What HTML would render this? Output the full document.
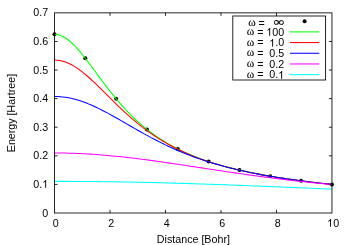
<!DOCTYPE html>
<html><head><meta charset="utf-8"><title>chart</title>
<style>
html,body{margin:0;padding:0;background:#fff;}
body{width:350px;height:245px;position:relative;overflow:hidden;font-family:"Liberation Sans",sans-serif;color:#000;}
.g1{display:inline-block;width:0.5562em;height:0.7188em;vertical-align:baseline;fill:#000;overflow:visible}
.t{position:absolute;white-space:nowrap;line-height:1;font-family:"Liberation Sans",sans-serif;}
</style></head><body>
<svg width="350" height="245" viewBox="0 0 350 245" style="position:absolute;left:0;top:0">
<rect width="350" height="245" fill="#fff"/>
<circle cx="54.50" cy="34.31" r="2.0" fill="#000"/>
<circle cx="85.33" cy="58.37" r="2.0" fill="#000"/>
<circle cx="116.16" cy="98.83" r="2.0" fill="#000"/>
<circle cx="146.98" cy="129.42" r="2.0" fill="#000"/>
<circle cx="177.81" cy="149.00" r="2.0" fill="#000"/>
<circle cx="208.64" cy="161.58" r="2.0" fill="#000"/>
<circle cx="239.47" cy="170.12" r="2.0" fill="#000"/>
<circle cx="270.29" cy="176.24" r="2.0" fill="#000"/>
<circle cx="301.12" cy="180.84" r="2.0" fill="#000"/>
<circle cx="331.95" cy="184.41" r="2.0" fill="#000"/>
<polyline points="54.50,34.32 57.27,34.55 60.05,35.26 62.82,36.42 65.60,38.01 68.37,40.00 71.15,42.34 73.92,45.00 76.70,47.94 79.47,51.11 82.25,54.46 85.02,57.97 87.79,61.59 90.57,65.30 93.34,69.04 96.12,72.81 98.89,76.58 101.67,80.32 104.44,84.01 107.22,87.65 109.99,91.21 112.76,94.70 115.54,98.09 118.31,101.39 121.09,104.58 123.86,107.68 126.64,110.67 129.41,113.55 132.19,116.33 134.96,119.00 137.73,121.57 140.51,124.04 143.28,126.41 146.06,128.68 148.83,130.87 151.61,132.96 154.38,134.97 157.16,136.90 159.93,138.75 162.71,140.52 165.48,142.22 168.25,143.86 171.03,145.42 173.80,146.93 176.58,148.37 179.35,149.76 182.13,151.10 184.90,152.38 187.68,153.61 190.45,154.80 193.22,155.94 196.00,157.04 198.77,158.11 201.55,159.13 204.32,160.12 207.10,161.07 209.87,161.99 212.65,162.88 215.42,163.74 218.20,164.57 220.97,165.37 223.74,166.15 226.52,166.90 229.29,167.63 232.07,168.34 234.84,169.02 237.62,169.69 240.39,170.33 243.17,170.96 245.94,171.57 248.71,172.16 251.49,172.74 254.26,173.29 257.04,173.84 259.81,174.37 262.59,174.88 265.36,175.38 268.14,175.87 270.91,176.35 273.69,176.81 276.46,177.26 279.23,177.70 282.01,178.13 284.78,178.55 287.56,178.96 290.33,179.36 293.11,179.76 295.88,180.14 298.66,180.51 301.43,180.88 304.20,181.23 306.98,181.58 309.75,181.92 312.53,182.26 315.30,182.59 318.08,182.91 320.85,183.22 323.63,183.53 326.40,183.83 329.18,184.12 331.95,184.41" fill="none" stroke="#00ff00" stroke-width="1.05" stroke-linejoin="round"/>
<polyline points="54.50,60.05 57.27,60.18 60.05,60.56 62.82,61.20 65.60,62.08 68.37,63.21 71.15,64.55 73.92,66.11 76.70,67.87 79.47,69.80 82.25,71.90 85.02,74.15 87.79,76.52 90.57,79.00 93.34,81.57 96.12,84.21 98.89,86.90 101.67,89.64 104.44,92.39 107.22,95.16 109.99,97.93 112.76,100.67 115.54,103.40 118.31,106.09 121.09,108.74 123.86,111.34 126.64,113.88 129.41,116.37 132.19,118.80 134.96,121.16 137.73,123.45 140.51,125.68 143.28,127.83 146.06,129.92 148.83,131.94 151.61,133.89 154.38,135.78 157.16,137.59 159.93,139.35 162.71,141.04 165.48,142.67 168.25,144.24 171.03,145.75 173.80,147.21 176.58,148.61 179.35,149.97 182.13,151.27 184.90,152.53 187.68,153.74 190.45,154.91 193.22,156.04 196.00,157.12 198.77,158.17 201.55,159.19 204.32,160.16 207.10,161.11 209.87,162.02 212.65,162.91 215.42,163.76 218.20,164.59 220.97,165.39 223.74,166.16 226.52,166.91 229.29,167.64 232.07,168.35 234.84,169.03 237.62,169.70 240.39,170.34 243.17,170.97 245.94,171.57 248.71,172.16 251.49,172.74 254.26,173.30 257.04,173.84 259.81,174.37 262.59,174.88 265.36,175.38 268.14,175.87 270.91,176.35 273.69,176.81 276.46,177.26 279.23,177.70 282.01,178.13 284.78,178.55 287.56,178.96 290.33,179.37 293.11,179.76 295.88,180.14 298.66,180.51 301.43,180.88 304.20,181.23 306.98,181.58 309.75,181.92 312.53,182.26 315.30,182.59 318.08,182.91 320.85,183.22 323.63,183.53 326.40,183.83 329.18,184.12 331.95,184.41" fill="none" stroke="#ff0000" stroke-width="1.05" stroke-linejoin="round"/>
<polyline points="54.50,96.45 57.27,96.51 60.05,96.67 62.82,96.93 65.60,97.29 68.37,97.76 71.15,98.33 73.92,98.99 76.70,99.74 79.47,100.59 82.25,101.52 85.02,102.53 87.79,103.61 90.57,104.77 93.34,105.99 96.12,107.27 98.89,108.61 101.67,110.00 104.44,111.43 107.22,112.91 109.99,114.41 112.76,115.95 115.54,117.50 118.31,119.08 121.09,120.66 123.86,122.26 126.64,123.86 129.41,125.46 132.19,127.06 134.96,128.65 137.73,130.23 140.51,131.79 143.28,133.34 146.06,134.87 148.83,136.37 151.61,137.86 154.38,139.32 157.16,140.75 159.93,142.15 162.71,143.53 165.48,144.88 168.25,146.19 171.03,147.48 173.80,148.73 176.58,149.95 179.35,151.15 182.13,152.31 184.90,153.44 187.68,154.53 190.45,155.60 193.22,156.64 196.00,157.65 198.77,158.63 201.55,159.59 204.32,160.51 207.10,161.41 209.87,162.29 212.65,163.13 215.42,163.96 218.20,164.76 220.97,165.54 223.74,166.29 226.52,167.02 229.29,167.74 232.07,168.43 234.84,169.10 237.62,169.75 240.39,170.39 243.17,171.01 245.94,171.61 248.71,172.20 251.49,172.77 254.26,173.32 257.04,173.86 259.81,174.39 262.59,174.90 265.36,175.40 268.14,175.88 270.91,176.36 273.69,176.82 276.46,177.27 279.23,177.71 282.01,178.14 284.78,178.56 287.56,178.97 290.33,179.37 293.11,179.76 295.88,180.14 298.66,180.51 301.43,180.88 304.20,181.23 306.98,181.58 309.75,181.92 312.53,182.26 315.30,182.59 318.08,182.91 320.85,183.22 323.63,183.53 326.40,183.83 329.18,184.12 331.95,184.41" fill="none" stroke="#0000ff" stroke-width="1.05" stroke-linejoin="round"/>
<polyline points="54.50,152.99 57.27,153.00 60.05,153.02 62.82,153.05 65.60,153.10 68.37,153.17 71.15,153.24 73.92,153.33 76.70,153.43 79.47,153.55 82.25,153.68 85.02,153.82 87.79,153.98 90.57,154.14 93.34,154.33 96.12,154.52 98.89,154.72 101.67,154.94 104.44,155.17 107.22,155.41 109.99,155.66 112.76,155.92 115.54,156.19 118.31,156.47 121.09,156.76 123.86,157.06 126.64,157.37 129.41,157.69 132.19,158.02 134.96,158.35 137.73,158.69 140.51,159.04 143.28,159.40 146.06,159.77 148.83,160.13 151.61,160.51 154.38,160.89 157.16,161.28 159.93,161.67 162.71,162.07 165.48,162.47 168.25,162.87 171.03,163.28 173.80,163.69 176.58,164.10 179.35,164.52 182.13,164.93 184.90,165.35 187.68,165.77 190.45,166.19 193.22,166.62 196.00,167.04 198.77,167.46 201.55,167.89 204.32,168.31 207.10,168.73 209.87,169.15 212.65,169.58 215.42,169.99 218.20,170.41 220.97,170.83 223.74,171.24 226.52,171.66 229.29,172.07 232.07,172.47 234.84,172.88 237.62,173.28 240.39,173.68 243.17,174.07 245.94,174.47 248.71,174.86 251.49,175.24 254.26,175.62 257.04,176.00 259.81,176.38 262.59,176.75 265.36,177.11 268.14,177.48 270.91,177.84 273.69,178.19 276.46,178.54 279.23,178.89 282.01,179.23 284.78,179.57 287.56,179.90 290.33,180.23 293.11,180.56 295.88,180.88 298.66,181.19 301.43,181.51 304.20,181.81 306.98,182.12 309.75,182.42 312.53,182.71 315.30,183.00 318.08,183.29 320.85,183.57 323.63,183.85 326.40,184.12 329.18,184.39 331.95,184.66" fill="none" stroke="#ff00ff" stroke-width="1.05" stroke-linejoin="round"/>
<polyline points="54.50,181.36 57.27,181.36 60.05,181.37 62.82,181.37 65.60,181.38 68.37,181.39 71.15,181.40 73.92,181.41 76.70,181.43 79.47,181.44 82.25,181.46 85.02,181.48 87.79,181.51 90.57,181.53 93.34,181.56 96.12,181.59 98.89,181.62 101.67,181.65 104.44,181.69 107.22,181.72 109.99,181.76 112.76,181.80 115.54,181.85 118.31,181.89 121.09,181.94 123.86,181.98 126.64,182.03 129.41,182.09 132.19,182.14 134.96,182.19 137.73,182.25 140.51,182.31 143.28,182.37 146.06,182.43 148.83,182.50 151.61,182.56 154.38,182.63 157.16,182.70 159.93,182.77 162.71,182.84 165.48,182.91 168.25,182.99 171.03,183.06 173.80,183.14 176.58,183.22 179.35,183.30 182.13,183.38 184.90,183.47 187.68,183.55 190.45,183.64 193.22,183.73 196.00,183.81 198.77,183.90 201.55,183.99 204.32,184.09 207.10,184.18 209.87,184.28 212.65,184.37 215.42,184.47 218.20,184.57 220.97,184.66 223.74,184.76 226.52,184.86 229.29,184.97 232.07,185.07 234.84,185.17 237.62,185.28 240.39,185.38 243.17,185.49 245.94,185.59 248.71,185.70 251.49,185.81 254.26,185.92 257.04,186.03 259.81,186.14 262.59,186.25 265.36,186.36 268.14,186.47 270.91,186.59 273.69,186.70 276.46,186.81 279.23,186.93 282.01,187.04 284.78,187.16 287.56,187.27 290.33,187.39 293.11,187.50 295.88,187.62 298.66,187.73 301.43,187.85 304.20,187.97 306.98,188.08 309.75,188.20 312.53,188.32 315.30,188.44 318.08,188.55 320.85,188.67 323.63,188.79 326.40,188.91 329.18,189.02 331.95,189.14" fill="none" stroke="#00ffff" stroke-width="1.05" stroke-linejoin="round"/>
<rect x="54.50" y="12.87" width="277.45" height="200.13" fill="none" stroke="#000" stroke-width="0.85"/>
<path d="M109.99 213.00V210.00M109.99 12.87V15.87M165.48 213.00V210.00M165.48 12.87V15.87M220.97 213.00V210.00M220.97 12.87V15.87M276.46 213.00V210.00M276.46 12.87V15.87M54.50 184.41H57.50M331.95 184.41H328.95M54.50 155.82H57.50M331.95 155.82H328.95M54.50 127.23H57.50M331.95 127.23H328.95M54.50 98.64H57.50M331.95 98.64H328.95M54.50 70.05H57.50M331.95 70.05H328.95M54.50 41.46H57.50M331.95 41.46H328.95" stroke="#000" stroke-width="0.85" fill="none"/>
<rect x="232.80" y="16.00" width="92.80" height="64.00" fill="#fff" stroke="#000" stroke-width="0.85"/>
<circle cx="304.6" cy="21.20" r="2.0" fill="#000"/>
<path d="M290 31.89H319.2" stroke="#00ff00" stroke-width="1.05"/>
<path d="M290 42.58H319.2" stroke="#ff0000" stroke-width="1.05"/>
<path d="M290 53.27H319.2" stroke="#0000ff" stroke-width="1.05"/>
<path d="M290 63.96H319.2" stroke="#ff00ff" stroke-width="1.05"/>
<path d="M290 74.65H319.2" stroke="#00ffff" stroke-width="1.05"/>
</svg>
<div style="position:absolute;left:0;top:0;width:350px;height:245px;will-change:transform">
<div class="t" style="left:55.70px;top:217.95px;transform:translateX(-50%);font-size:10.69px;font-family:'Liberation Sans',sans-serif;">0</div>
<div class="t" style="left:111.19px;top:217.95px;transform:translateX(-50%);font-size:10.69px;font-family:'Liberation Sans',sans-serif;">2</div>
<div class="t" style="left:166.68px;top:217.95px;transform:translateX(-50%);font-size:10.69px;font-family:'Liberation Sans',sans-serif;">4</div>
<div class="t" style="left:222.17px;top:217.95px;transform:translateX(-50%);font-size:10.69px;font-family:'Liberation Sans',sans-serif;">6</div>
<div class="t" style="left:277.66px;top:217.95px;transform:translateX(-50%);font-size:10.69px;font-family:'Liberation Sans',sans-serif;">8</div>
<div class="t" style="left:333.15px;top:217.95px;transform:translateX(-50%);font-size:10.69px;font-family:'Liberation Sans',sans-serif;"><svg class="g1" viewBox="0 -1472 1139 1472"><path d="M763 0H583V-1147Q518 -1085 412.5 -1023T223 -930V-1104Q374 -1175 487 -1276T647 -1472H763Z"/></svg>0</div>
<div class="t" style="left:48.20px;top:207.55px;transform:translateX(-100%);font-size:10.69px;font-family:'Liberation Sans',sans-serif;">0</div>
<div class="t" style="left:48.20px;top:178.96px;transform:translateX(-100%);font-size:10.69px;font-family:'Liberation Sans',sans-serif;">0.<svg class="g1" viewBox="0 -1472 1139 1472"><path d="M763 0H583V-1147Q518 -1085 412.5 -1023T223 -930V-1104Q374 -1175 487 -1276T647 -1472H763Z"/></svg></div>
<div class="t" style="left:48.20px;top:150.37px;transform:translateX(-100%);font-size:10.69px;font-family:'Liberation Sans',sans-serif;">0.2</div>
<div class="t" style="left:48.20px;top:121.78px;transform:translateX(-100%);font-size:10.69px;font-family:'Liberation Sans',sans-serif;">0.3</div>
<div class="t" style="left:48.20px;top:93.19px;transform:translateX(-100%);font-size:10.69px;font-family:'Liberation Sans',sans-serif;">0.4</div>
<div class="t" style="left:48.20px;top:64.60px;transform:translateX(-100%);font-size:10.69px;font-family:'Liberation Sans',sans-serif;">0.5</div>
<div class="t" style="left:48.20px;top:36.01px;transform:translateX(-100%);font-size:10.69px;font-family:'Liberation Sans',sans-serif;">0.6</div>
<div class="t" style="left:48.20px;top:7.42px;transform:translateX(-100%);font-size:10.69px;font-family:'Liberation Sans',sans-serif;">0.7</div>
<div class="t" style="left:193.40px;top:233.85px;transform:translateX(-50%);font-size:10.69px;font-family:'Liberation Sans',sans-serif;">Distance [Bohr]</div>
<div class="t" style="left:10.90px;top:113.00px;font-size:10.69px;transform:translate(-50%,-50%) rotate(-90deg);">Energy [Hartree]</div>
<div class="t" style="left:284.20px;top:16.19px;transform:translateX(-100%) scaleX(1.200);transform-origin:100% 50%;font-size:12.29px;font-family:'Liberation Serif',serif;-webkit-text-stroke:0.25px #000;">∞</div>
<div class="t" style="left:248.14px;top:17.01px;transform:none;font-size:11.33px;font-family:'Liberation Serif',serif;-webkit-text-stroke:0.12px #000;">ω</div>
<div class="t" style="left:258.45px;top:17.55px;transform:none;font-size:10.69px;font-family:'Liberation Sans',sans-serif;">=</div>
<div class="t" style="left:284.20px;top:26.54px;transform:translateX(-100%);font-size:10.69px;font-family:'Liberation Sans',sans-serif;"><svg class="g1" viewBox="0 -1472 1139 1472"><path d="M763 0H583V-1147Q518 -1085 412.5 -1023T223 -930V-1104Q374 -1175 487 -1276T647 -1472H763Z"/></svg>00</div>
<div class="t" style="left:246.85px;top:26.00px;transform:none;font-size:11.33px;font-family:'Liberation Serif',serif;-webkit-text-stroke:0.12px #000;">ω</div>
<div class="t" style="left:257.15px;top:26.54px;transform:none;font-size:10.69px;font-family:'Liberation Sans',sans-serif;">=</div>
<div class="t" style="left:284.20px;top:37.23px;transform:translateX(-100%);font-size:10.69px;font-family:'Liberation Sans',sans-serif;"><svg class="g1" viewBox="0 -1472 1139 1472"><path d="M763 0H583V-1147Q518 -1085 412.5 -1023T223 -930V-1104Q374 -1175 487 -1276T647 -1472H763Z"/></svg>.0</div>
<div class="t" style="left:246.85px;top:36.69px;transform:none;font-size:11.33px;font-family:'Liberation Serif',serif;-webkit-text-stroke:0.12px #000;">ω</div>
<div class="t" style="left:257.15px;top:37.23px;transform:none;font-size:10.69px;font-family:'Liberation Sans',sans-serif;">=</div>
<div class="t" style="left:284.20px;top:47.92px;transform:translateX(-100%);font-size:10.69px;font-family:'Liberation Sans',sans-serif;">0.5</div>
<div class="t" style="left:246.85px;top:47.38px;transform:none;font-size:11.33px;font-family:'Liberation Serif',serif;-webkit-text-stroke:0.12px #000;">ω</div>
<div class="t" style="left:257.15px;top:47.92px;transform:none;font-size:10.69px;font-family:'Liberation Sans',sans-serif;">=</div>
<div class="t" style="left:284.20px;top:58.61px;transform:translateX(-100%);font-size:10.69px;font-family:'Liberation Sans',sans-serif;">0.2</div>
<div class="t" style="left:246.85px;top:58.07px;transform:none;font-size:11.33px;font-family:'Liberation Serif',serif;-webkit-text-stroke:0.12px #000;">ω</div>
<div class="t" style="left:257.15px;top:58.61px;transform:none;font-size:10.69px;font-family:'Liberation Sans',sans-serif;">=</div>
<div class="t" style="left:284.20px;top:69.30px;transform:translateX(-100%);font-size:10.69px;font-family:'Liberation Sans',sans-serif;">0.<svg class="g1" viewBox="0 -1472 1139 1472"><path d="M763 0H583V-1147Q518 -1085 412.5 -1023T223 -930V-1104Q374 -1175 487 -1276T647 -1472H763Z"/></svg></div>
<div class="t" style="left:246.85px;top:68.76px;transform:none;font-size:11.33px;font-family:'Liberation Serif',serif;-webkit-text-stroke:0.12px #000;">ω</div>
<div class="t" style="left:257.15px;top:69.30px;transform:none;font-size:10.69px;font-family:'Liberation Sans',sans-serif;">=</div>
</div>
</body></html>
